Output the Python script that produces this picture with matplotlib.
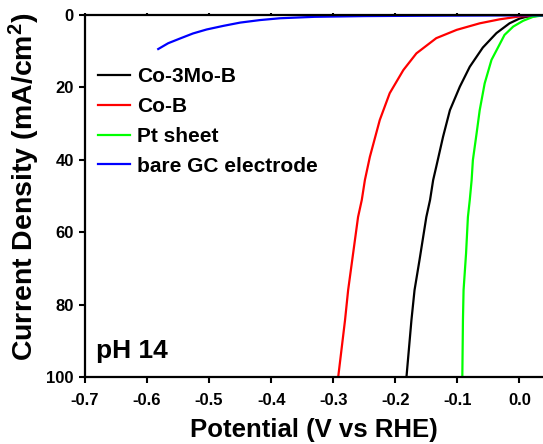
import matplotlib
matplotlib.use("Agg")
import matplotlib.pyplot as plt

plt.rcParams['font.family'] = ['Liberation Sans', 'DejaVu Sans']
plt.rcParams['font.weight'] = 'bold'
plt.rcParams['mathtext.fontset'] = 'custom'
plt.rcParams['mathtext.rm'] = 'Liberation Sans:bold'
plt.rcParams['mathtext.bf'] = 'Liberation Sans:bold'
plt.rcParams['mathtext.default'] = 'bf'

# ---- data (potential V vs RHE, current density mA/cm2) ----
co3mob_x = [-0.182, -0.174, -0.169, -0.161, -0.150, -0.144, -0.139, -0.134, -0.123,
            -0.112, -0.096, -0.080, -0.059, -0.037, -0.016, 0.000, 0.011, 0.038]
co3mob_y = [100, 84.3, 76.0, 67.7, 55.8, 51.1, 45.6, 41.9, 33.6,
            26.3, 19.8, 14.3, 9.0, 5.0, 2.3, 1.0, 0.5, 0.1]

cob_x = [-0.292, -0.281, -0.276, -0.268, -0.260, -0.254, -0.249, -0.241, -0.225,
         -0.209, -0.187, -0.166, -0.134, -0.101, -0.064, -0.032, 0.000, 0.038]
cob_y = [100, 84.3, 76.0, 65.9, 55.8, 51.1, 45.6, 39.2, 29.0,
         21.6, 15.2, 10.6, 6.4, 4.1, 2.3, 1.2, 0.4, 0.1]

pt_x = [-0.092, -0.091, -0.090, -0.086, -0.083, -0.080, -0.077, -0.075, -0.069,
        -0.064, -0.056, -0.045, -0.034, -0.024, -0.010, 0.006, 0.022, 0.038]
pt_y = [100, 84.3, 76.0, 65.9, 55.8, 51.1, 45.6, 40.1, 32.7,
        26.3, 18.9, 12.4, 8.8, 5.5, 3.2, 1.6, 0.5, 0.1]

gc_x = [-0.582, -0.566, -0.547, -0.526, -0.504, -0.477, -0.450, -0.418, -0.386,
        -0.33, -0.25, -0.15, 0.0, 0.038]
gc_y = [9.4, 7.8, 6.5, 5.1, 4.0, 3.0, 2.1, 1.4, 0.9,
        0.5, 0.3, 0.2, 0.1, 0.1]

labels = ['Co-3Mo-B', 'Co-B', 'Pt sheet', 'bare GC electrode']
colors = ['#000000', '#ff0000', '#00ff00', '#0000ff']
x_ticks = [-0.7, -0.6, -0.5, -0.4, -0.3, -0.2, -0.1, 0.0]
y_ticks = [0, 20, 40, 60, 80, 100]

fig = plt.figure(figsize=(5.43, 4.44), dpi=100)
ax = fig.add_axes([85 / 543, 1 - 377 / 444, 1 - 85 / 543, (377 - 15) / 444])

series = [(co3mob_x, co3mob_y), (cob_x, cob_y), (pt_x, pt_y), (gc_x, gc_y)]
for (xs, ys), lab, c in zip(series, labels, colors):
    ax.plot(xs, ys, color=c, lw=1.6, label=lab)

ax.set_xlim(-0.7, 0.038)
ax.set_ylim(100, 0)
ax.set_xticks(x_ticks)
ax.set_xticklabels([f"{v:.1f}" for v in x_ticks])
ax.set_yticks(y_ticks)
ax.set_yticklabels([str(v) for v in y_ticks])

for s in ['left', 'bottom', 'top']:
    ax.spines[s].set_linewidth(1.6)
ax.spines['right'].set_visible(False)
ax.tick_params(axis='both', direction='out', length=4, width=1.5, labelsize=12)
ax.tick_params(axis='y', pad=4)
ax.tick_params(axis='x', pad=7.5, top=True)
for t in ax.xaxis.get_major_ticks():
    t.tick2line.set_markersize(1.5)

ax.set_xlabel('Potential (V vs RHE)', fontsize=18.5, fontweight='bold', labelpad=7)
ax.set_ylabel(r'Current Density (mA/cm$^{2}$)', fontsize=20.5, fontweight='bold')
ax.yaxis.set_label_coords(-0.094, 0.525)

ax.text(0.025, 0.052, 'pH 14', transform=ax.transAxes, fontsize=19, fontweight='bold',
        ha='left', va='baseline')

leg = ax.legend(loc='upper left', bbox_to_anchor=(0.028, 0.856), frameon=False,
                handlelength=1.55, handletextpad=0.35, labelspacing=0.52,
                borderpad=0, borderaxespad=0, prop={'weight': 'bold', 'size': 15})

fig.savefig('out.png', dpi=100)
